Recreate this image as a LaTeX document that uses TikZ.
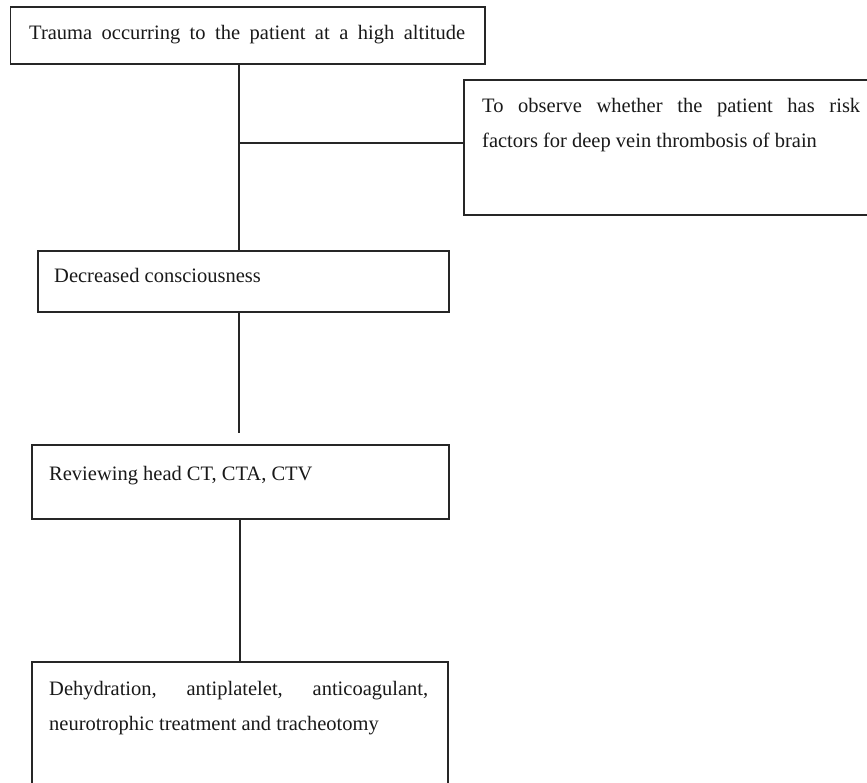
\documentclass[tikz,border=0pt]{standalone}
\usepackage{fontspec}
\setmainfont{Liberation Serif}
\begin{document}
\begin{tikzpicture}[x=1pt,y=-1pt,
  box/.style={draw=black!85, line width=1.6pt, rectangle, inner sep=0pt, anchor=north west},
  conn/.style={draw=black!85, line width=1.6pt},
  txt/.style={inner sep=0pt, anchor=base west, text=black!90, font=\fontsize{20.5}{35}\selectfont}]
\useasboundingbox[fill=white] (0,0) rectangle (867,783);

% boxes
\node[box, minimum width=474.5pt, minimum height=57pt] (b1) at (9.5,6) {};
\node[box, minimum width=420pt, minimum height=135pt] (b3) at (463,79) {};
\node[box, minimum width=411pt, minimum height=61pt] (b2) at (37,250) {};
\node[box, minimum width=417pt, minimum height=74pt] (b4) at (31,444) {};
\node[box, minimum width=416pt, minimum height=140pt] (b5) at (31,661) {};

% texts
\node[txt] (t1) at (29,40) {\makebox[436pt][s]{Trauma occurring to the patient at a high altitude}};
\node[txt] (t3) at (482,113) {\parbox[t]{378pt}{To observe whether the patient has risk\linebreak factors for deep vein thrombosis of brain}};
\node[txt] (t2) at (54,283) {Decreased consciousness};
\node[txt] (t4) at (49,480) {Reviewing head CT, CTA, CTV};
\node[txt] (t5) at (49,695) {\parbox[t]{379pt}{Dehydration, antiplatelet, anticoagulant,\linebreak neurotrophic treatment and tracheotomy}};

% connectors
\coordinate (spine) at (239,0);
\coordinate (spineb) at (240,0);
\coordinate (jn) at (239,143);
\coordinate (e2) at (239,433);
\draw[conn] (spine |- b1.south) -- (spine |- b2.north);
\draw[conn] (jn) -- (jn -| b3.west);
\draw[conn] (spine |- b2.south) -- (e2);
\draw[conn] (spineb |- b4.south) -- (spineb |- b5.north);
\end{tikzpicture}
\end{document}
